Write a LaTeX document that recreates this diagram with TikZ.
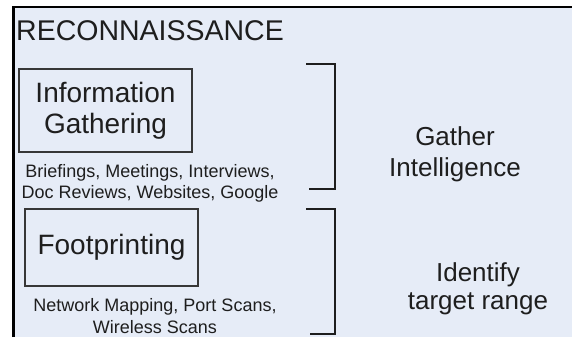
\documentclass[tikz,border=0pt]{standalone}
\usepackage{fontspec}
\setmainfont{Liberation Sans}
\definecolor{panelfill}{RGB}{230,236,247}
\definecolor{inkdark}{RGB}{30,30,30}
\definecolor{boxline}{RGB}{55,55,55}
\newcommand{\fsz}[2]{\fontsize{#1}{#2}\selectfont}
\tikzset{
  phasebox/.style={draw=boxline, line width=1.1pt, inner sep=0pt,
    minimum width=173pt, text=inkdark, align=center, font=\fsz{28}{31}},
  note/.style={inner sep=0pt, text=inkdark, align=center, anchor=north,
    font=\fsz{18}{21}},
  goal/.style={inner sep=0pt, text=inkdark, align=center, anchor=north},
  bracket/.style={draw=inkdark, line width=1.5pt},
  frameline/.style={draw=black, line width=2.5pt}
}
\begin{document}
\begin{tikzpicture}[x=1pt, y=-1pt]
  \useasboundingbox (0,0) rectangle (572,337);
  % panel background and its two visible edges
  \fill[panelfill] (13,7) rectangle (572,337);
  \draw[frameline] (13.5,337) -- (13.5,7) -- (572,7);

  % heading
  \node[anchor=base west, inner sep=0pt, text=inkdark, font=\fsz{28.5}{32}]
    (title) at (16,41) {RECONNAISSANCE};

  % information gathering step
  \node[phasebox, minimum height=83pt] (info) at (105.5,110.5)
    {Information\\Gathering};
  \node[note] (infonote) at (150,163.9)
    {Briefings, Meetings, Interviews,\\Doc Reviews, Websites, Google};

  % footprinting step
  \node[phasebox, minimum height=77pt] (foot) at (111.5,247.5) {Footprinting};
  \node[note, font=\fsz{18}{22}] (footnote) at (155,297.9)
    {Network Mapping, Port Scans,\\Wireless Scans};

  % brackets grouping each step with its goal
  \coordinate (b1a) at (306,64);
  \coordinate (b1b) at (335,64);
  \coordinate (b1c) at (335,189);
  \coordinate (b1d) at (309,189);
  \draw[bracket] (b1a) -- (b1b) -- (b1c) -- (b1d);
  \coordinate (b2a) at (306,209);
  \coordinate (b2b) at (335,209);
  \coordinate (b2c) at (335,334);
  \coordinate (b2d) at (310,334);
  \draw[bracket] (b2a) -- (b2b) -- (b2c) -- (b2d);

  % goals
  \node[goal, font=\fsz{26}{31}] (gather) at (455,126.5)
    {Gather\\Intelligence};
  \node[goal, font=\fsz{26}{28}] (identify) at (478,262)
    {Identify\\target range};
\end{tikzpicture}
\end{document}
